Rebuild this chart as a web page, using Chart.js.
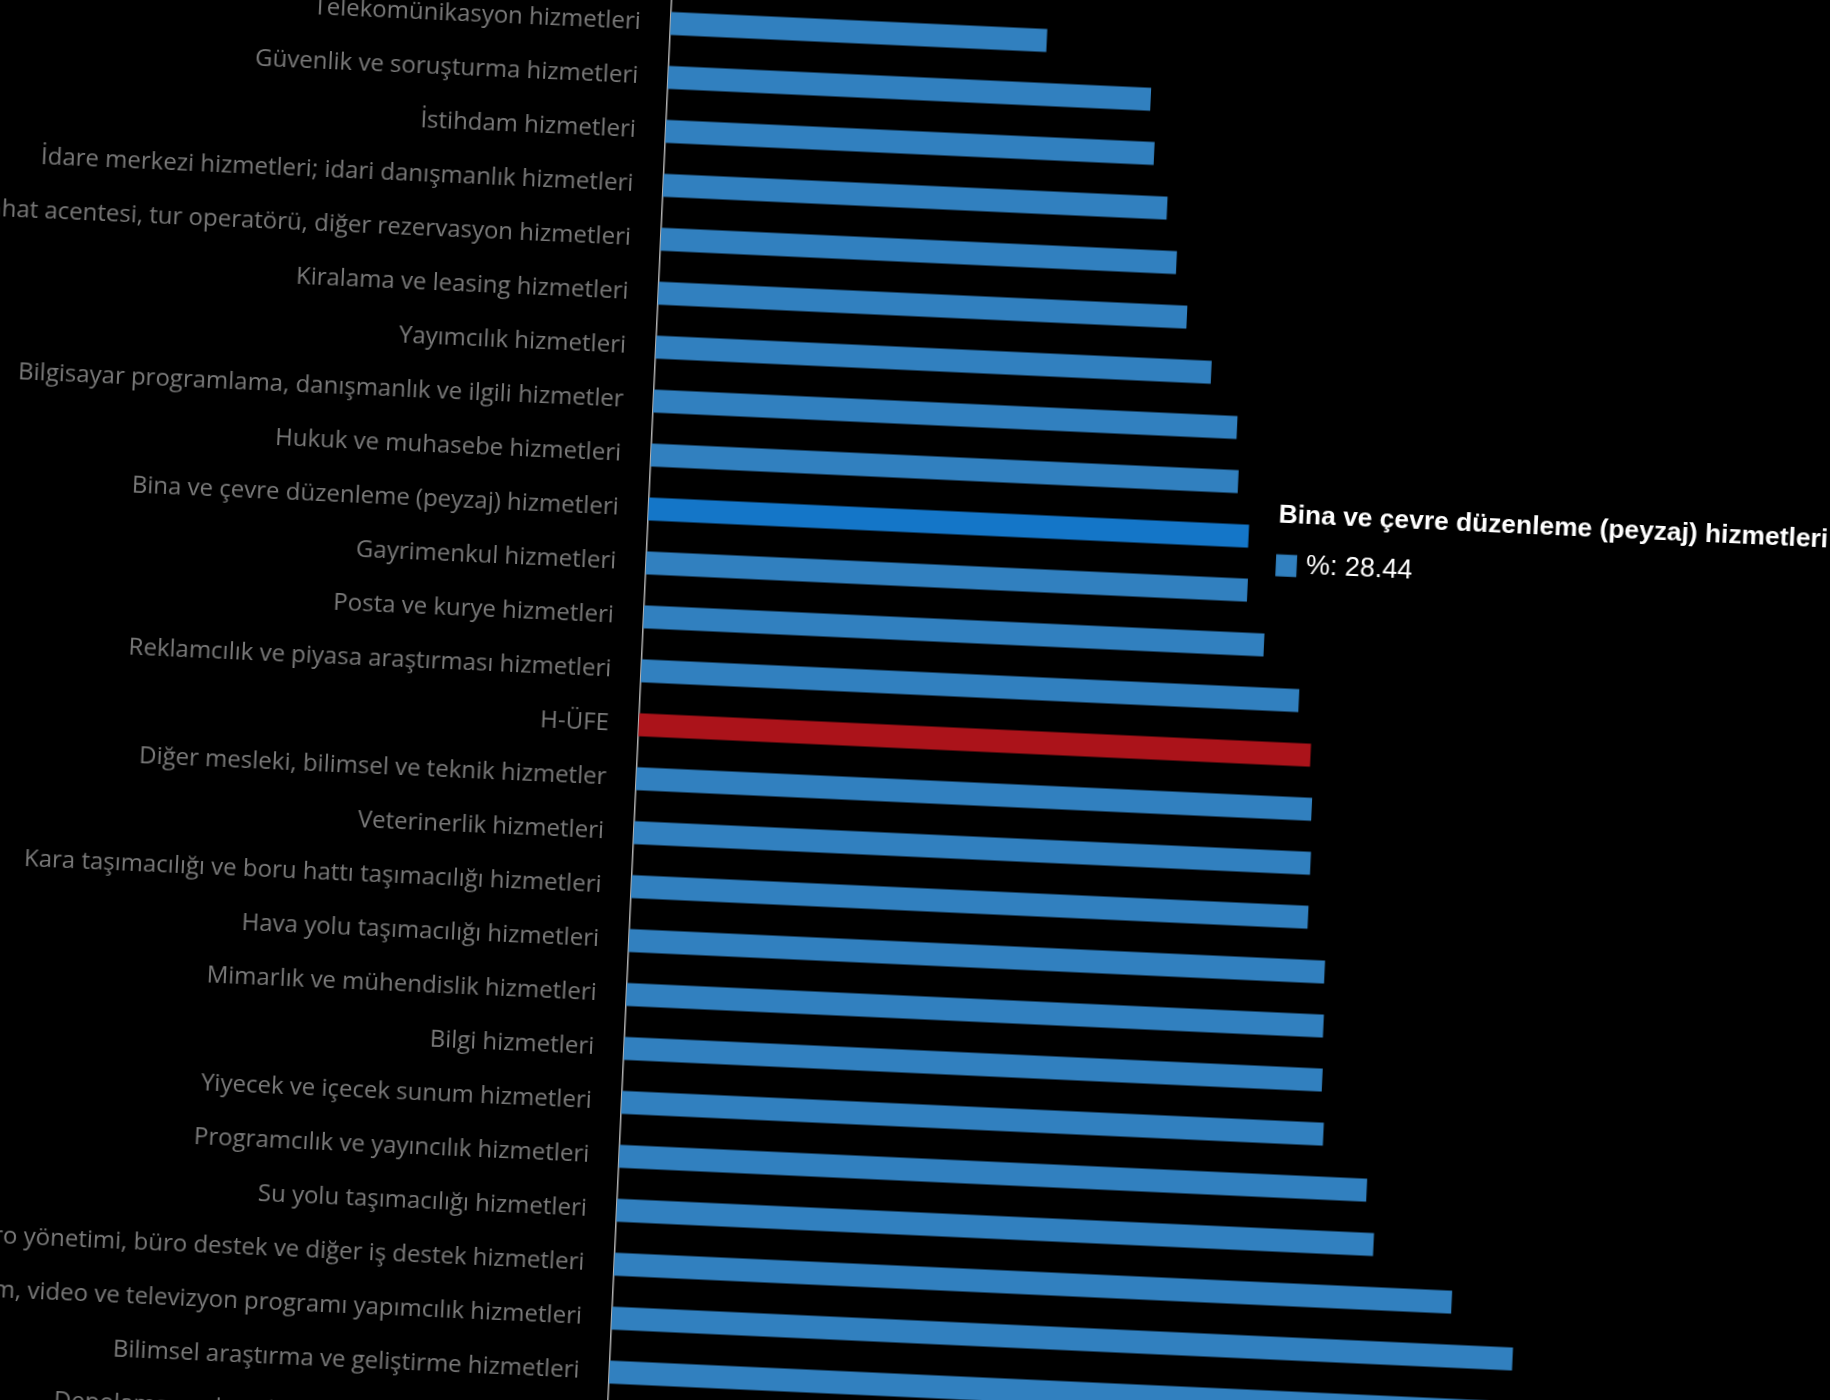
<!DOCTYPE html>
<html>
<head>
<meta charset="utf-8">
<script src="https://cdn.jsdelivr.net/npm/chart.js@4.4.1/dist/chart.umd.min.js"></script>
<style>
  html, body { margin: 0; padding: 0; background: #000; width: 1830px; height: 1400px; overflow: hidden; }
  #wrap { position: absolute; left: 0; top: 0; width: 1950px; height: 1600px; transform-origin: 0 0; transform: rotate(2.6deg); }
  #c { position: absolute; left: 0; top: -100px; }
</style>
</head>
<body>
<div id="wrap"><canvas id="c" width="1950" height="1600"></canvas></div>
<script>
const categories = [
  "Telekomünikasyon hizmetleri",
  "Güvenlik ve soruşturma hizmetleri",
  "İstihdam hizmetleri",
  "İdare merkezi hizmetleri; idari danışmanlık hizmetleri",
  "Seyahat acentesi, tur operatörü, diğer rezervasyon hizmetleri",
  "Kiralama ve leasing hizmetleri",
  "Yayımcılık hizmetleri",
  "Bilgisayar programlama, danışmanlık ve ilgili hizmetler",
  "Hukuk ve muhasebe hizmetleri",
  "Bina ve çevre düzenleme (peyzaj) hizmetleri",
  "Gayrimenkul hizmetleri",
  "Posta ve kurye hizmetleri",
  "Reklamcılık ve piyasa araştırması hizmetleri",
  "H-ÜFE",
  "Diğer mesleki, bilimsel ve teknik hizmetler",
  "Veterinerlik hizmetleri",
  "Kara taşımacılığı ve boru hattı taşımacılığı hizmetleri",
  "Hava yolu taşımacılığı hizmetleri",
  "Mimarlık ve mühendislik hizmetleri",
  "Bilgi hizmetleri",
  "Yiyecek ve içecek sunum hizmetleri",
  "Programcılık ve yayıncılık hizmetleri",
  "Su yolu taşımacılığı hizmetleri",
  "Büro yönetimi, büro destek ve diğer iş destek hizmetleri",
  "Film, video ve televizyon programı yapımcılık hizmetleri",
  "Bilimsel araştırma ve geliştirme hizmetleri",
  "Depolama ve destekleyici taşımacılık hizmetleri"
];
const values = [17.83, 22.87, 23.15, 23.88, 24.44, 25.05, 26.32, 27.66, 27.83, 28.44, 28.50, 29.40, 31.17, 31.84, 32.01, 32.07, 32.07, 32.97, 33.03, 33.09, 33.26, 35.43, 35.87, 39.69, 42.69, 45.50, 47.00];
const seriesName = "%";
const highlightCategory = "H-ÜFE";
const activeCategory = "Bina ve çevre düzenleme (peyzaj) hizmetleri";

const BLUE = "#3180bf";
const BLUE_HOVER = "#1476c8";
const RED = "#ab131a";

const colors = categories.map(c => c === highlightCategory ? RED : BLUE);
const hoverColors = categories.map(c => c === highlightCategory ? RED : BLUE_HOVER);

Chart.Tooltip.positioners.barEnd = function(items) {
  if (!items.length) return false;
  const p = items[0].element.getProps(['x', 'y'], true);
  return { x: p.x, y: p.y + 3 };
};

const chart = new Chart(document.getElementById('c'), {
  type: 'bar',
  data: {
    labels: categories,
    datasets: [{
      label: seriesName,
      data: values,
      backgroundColor: colors,
      hoverBackgroundColor: hoverColors,
      borderWidth: 0,
      barPercentage: 0.43,
      categoryPercentage: 1.0
    }]
  },
  options: {
    indexAxis: 'y',
    responsive: false,
    devicePixelRatio: 1,
    animation: false,
    events: [],
    layout: { padding: { left: 0, right: 0, top: 66, bottom: 76 } },
    scales: {
      x: { display: false, min: 0, max: 60.56 },
      y: {
        afterFit: (s) => { s.width = 671; },
        grid: { display: false },
        border: { display: true, color: '#b0b0b0', width: 1.5 },
        ticks: {
          autoSkip: false,
          color: '#7a7a7a',
          padding: 22,
          font: { family: 'Open Sans', size: 24 }
        }
      }
    },
    plugins: {
      legend: { display: false },
      tooltip: {
        enabled: true,
        position: 'barEnd',
        xAlign: 'left',
        yAlign: 'center',
        backgroundColor: 'rgba(0,0,0,0)',
        titleColor: '#ffffff',
        bodyColor: '#ffffff',
        titleFont: { family: 'Liberation Sans', size: 26.4, weight: 'bold', lineHeight: 1 },
        bodyFont: { family: 'Liberation Sans', size: 27, lineHeight: 1 },
        titleMarginBottom: 23,
        padding: 12,
        caretSize: 5,
        caretPadding: 12,
        boxWidth: 20,
        boxHeight: 21,
        multiKeyBackground: BLUE,
        displayColors: true,
        callbacks: {
          label: (ctx) => ' ' + ctx.dataset.label + ': ' + ctx.parsed.x.toFixed(2),
          labelColor: () => ({ borderColor: BLUE, backgroundColor: BLUE, borderWidth: 0 })
        }
      }
    }
  }
});

const idx = categories.indexOf(activeCategory);
chart.setActiveElements([{ datasetIndex: 0, index: idx }]);
chart.tooltip.setActiveElements([{ datasetIndex: 0, index: idx }], { x: 0, y: 0 });
chart.update();
</script>
</body>
</html>
